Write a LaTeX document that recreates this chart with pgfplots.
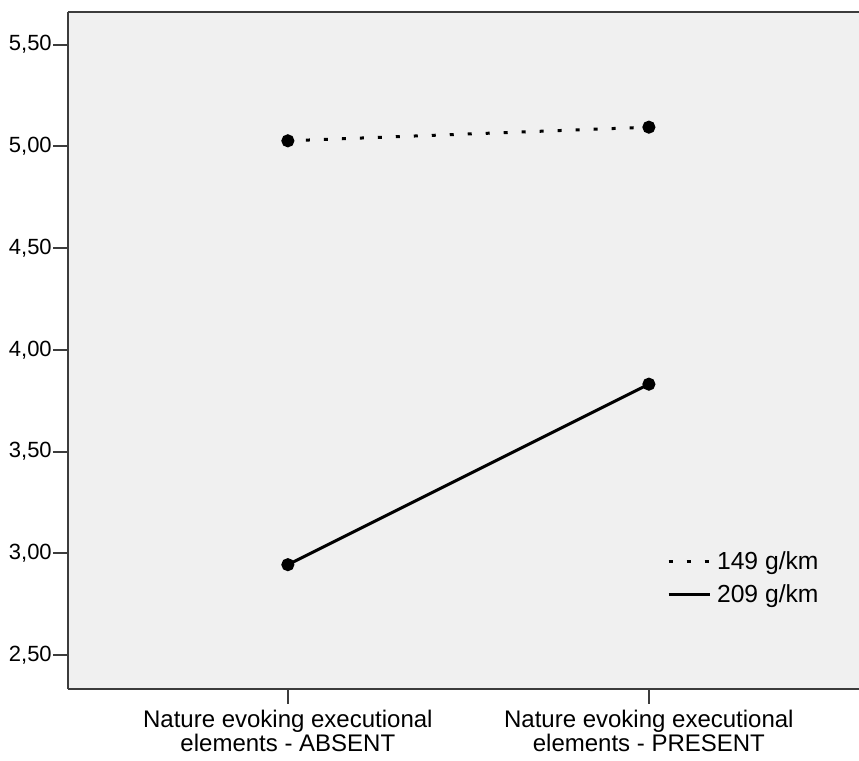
\documentclass[border=0pt]{standalone}
\usepackage{pgfplots}
\pgfplotsset{compat=1.18}
\usepackage{fontspec}
\setmainfont{Liberation Sans}
\definecolor{plotbg}{RGB}{240,240,240}
\definecolor{frame}{RGB}{60,60,60}

\begin{document}
\begin{tikzpicture}
\begin{axis}[
    scale only axis,
    width=593.25pt,
    height=507.75pt,
    xmin=-0.609, xmax=1.582,
    ymin=2.333, ymax=5.66,
    axis background/.style={fill=plotbg},
    axis y line*=left,
    axis line style={frame, line width=1.5pt},
    every tick/.style={frame, line width=1.5pt},
    tick align=outside,
    major tick length=11pt,
    xtick pos=bottom,
    ytick pos=left,
    xtick={0,1},
    xticklabels={{Nature evoking executional\\elements - ABSENT},{Nature evoking executional\\elements - PRESENT}},
    xticklabel style={align=center, font=\fontsize{18}{17.3}\selectfont, inner sep=0pt, yshift=-5pt},
    ytick={2.5,3,3.5,4,4.5,5,5.5},
    yticklabel style={font=\fontsize{16.5}{18}\selectfont, inner sep=0pt, xshift=-1pt},
    /pgf/number format/.cd, fixed, fixed zerofill, precision=2, use comma, assume math mode=true,
    /pgfplots/.cd,
    legend style={draw=none, fill=none, at={(0.757,0.207)}, anchor=north west,
        inner sep=0pt, row sep=6pt, font=\fontsize{18.5}{19}\selectfont,
        /tikz/every odd column/.append style={column sep=2.5pt}},
    legend cell align=left,
    legend image code/.code={\draw[#1] (0pt,0pt) -- (30.75pt,0pt);},
    clip=false,
]
\addplot[black, line width=2.25pt, dash pattern=on 3pt off 10.5pt,
    mark=*, mark size=3.75pt, mark options={solid}]
    coordinates {(0,5.027) (1,5.094)};
\addlegendentry{149 g/km}
\addplot[black, line width=2.25pt, mark=*, mark size=3.75pt]
    coordinates {(0,2.944) (1,3.831)};
\addlegendentry{209 g/km}
\end{axis}
\pgfresetboundingbox
\path ([shift={(-51pt,-53.25pt)}]current axis.south west) rectangle ([shift={(0pt,9pt)}]current axis.north east);
\end{tikzpicture}
\end{document}
